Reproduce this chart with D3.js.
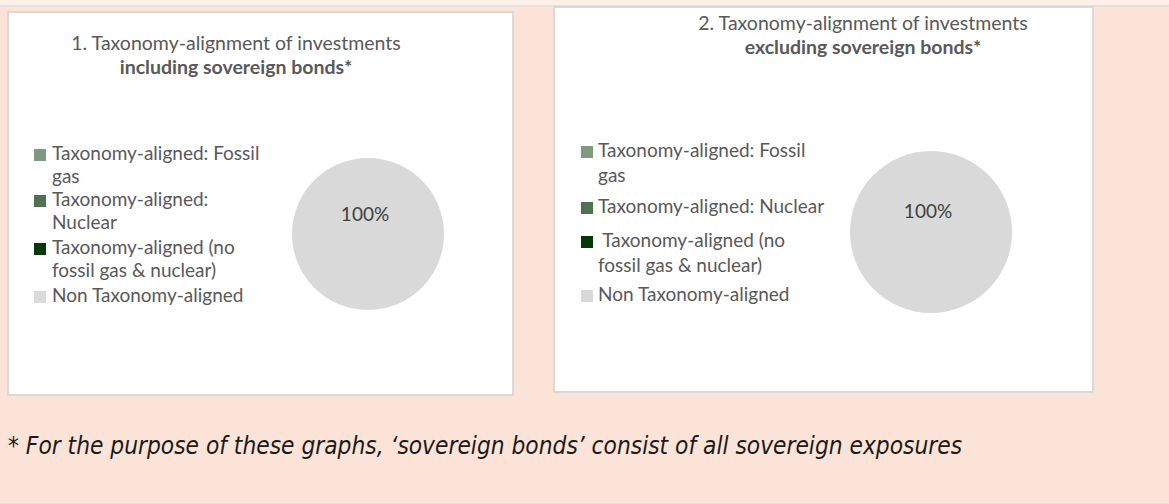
<!DOCTYPE html>
<html>
<head>
<meta charset="utf-8">
<script src="https://cdn.jsdelivr.net/npm/d3@7"></script>
<style>
  body { margin: 0; background: #fbe3d7; }
  svg { display: block; }
</style>
</head>
<body>
<svg id="chart" width="1169" height="504"></svg>
<script>
// legend categories and the pie values (percent) for both graphs
const categories = ["Taxonomy-aligned: Fossil gas", "Taxonomy-aligned: Nuclear",
  "Taxonomy-aligned (no fossil gas & nuclear)", "Non Taxonomy-aligned"];
const inclValues = [0, 0, 0, 100];
const exclValues = [0, 0, 0, 100];
const colors = ["#7f9a80", "#4f7352", "#063806", "#d9d9d9"];

// wrapped legend labels, as they break in each panel
const legendLines1 = [["Taxonomy-aligned: Fossil", "gas"], ["Taxonomy-aligned:", "Nuclear"],
  ["Taxonomy-aligned (no", "fossil gas & nuclear)"], ["Non Taxonomy-aligned"]];
const legendLines2 = [["Taxonomy-aligned: Fossil", "gas"], ["Taxonomy-aligned: Nuclear"],
  [" Taxonomy-aligned (no", "fossil gas & nuclear)"], ["Non Taxonomy-aligned"]];

const titles1 = ["1. Taxonomy-alignment of investments", "including sovereign bonds*"];
const titles2 = ["2. Taxonomy-alignment of investments", "excluding sovereign bonds*"];
const footnote = "* For the purpose of these graphs, \u2018sovereign bonds\u2019 consist of all sovereign exposures";

const svg = d3.select('#chart');
const font = "Lato, 'Open Sans', sans-serif";

// outer frame lines
svg.append('rect').attr('x', 0).attr('y', 0).attr('width', 1169).attr('height', 5).attr('fill', '#fdf0e9');
svg.append('line').attr('x1', 0).attr('x2', 1169).attr('y1', 6).attr('y2', 6)
  .attr('stroke', '#e3e0de').attr('stroke-width', 2);
svg.append('line').attr('x1', 0).attr('x2', 1169).attr('y1', 503.5).attr('y2', 503.5)
  .attr('stroke', '#e3e0de').attr('stroke-width', 1);

const panels = [
  { box: [8, 12, 505, 383], title: titles1, titleX: 236, titleY: [45, 69], values: inclValues,
    legend: legendLines1, legX: 34, textX: 52, legY: [155, 201, 249, 297], wrap: 23.5,
    cx: 368, cy: 234, r: 76 },
  { box: [554, 7, 539, 385], title: titles2, titleX: 863, titleY: [25, 49], values: exclValues,
    legend: legendLines2, legX: 581, textX: 598, legY: [152, 208, 242, 296], wrap: 25,
    cx: 931, cy: 232, r: 81 }
];

const pie = d3.pie().sort(null).value(d => d);

panels.forEach(p => {
  const g = svg.append('g');

  // panel card
  g.append('rect')
    .attr('x', p.box[0]).attr('y', p.box[1])
    .attr('width', p.box[2]).attr('height', p.box[3])
    .attr('fill', '#fff').attr('stroke', '#d9d9d9').attr('stroke-width', 2);

  // title, second line bold
  g.selectAll('text.title')
    .data(p.title)
    .join('text')
    .attr('class', 'title')
    .attr('x', p.titleX)
    .attr('y', (d, i) => p.titleY[i])
    .attr('text-anchor', 'middle')
    .attr('dominant-baseline', 'middle')
    .style('font-family', font)
    .style('font-size', '19.5px')
    .style('font-weight', (d, i) => i === 1 ? 'bold' : 'normal')
    .attr('fill', '#595959')
    .text(d => d);

  // legend
  const leg = g.selectAll('g.leg')
    .data(categories)
    .join('g')
    .attr('class', 'leg')
    .attr('transform', (d, i) => `translate(${p.legX},${p.legY[i]})`);

  leg.append('rect')
    .attr('x', 0).attr('y', -6)
    .attr('width', 12).attr('height', 12)
    .attr('fill', (d, i) => colors[i]);

  leg.each(function (d, i) {
    d3.select(this).selectAll('text')
      .data(p.legend[i])
      .join('text')
      .attr('x', p.textX - p.legX)
      .attr('y', (t, j) => j * p.wrap)
      .attr('dominant-baseline', 'middle')
      .attr('xml:space', 'preserve')
      .style('font-family', font)
      .style('font-size', '19px')
      .attr('fill', '#595959')
      .text(t => t);
  });

  // the pie itself
  const arc = d3.arc().innerRadius(0).outerRadius(p.r);
  const slices = pie(p.values);
  const pg = g.append('g').attr('transform', `translate(${p.cx},${p.cy})`);
  pg.selectAll('path')
    .data(slices)
    .join('path')
    .attr('d', arc)
    .attr('fill', (d, i) => colors[i]);

  // data label for the non-zero slice
  pg.selectAll('text')
    .data(slices.filter(d => d.data > 0))
    .join('text')
    .attr('x', -3)
    .attr('y', -p.r * 0.23)
    .attr('text-anchor', 'middle')
    .attr('dominant-baseline', 'middle')
    .style('font-family', font)
    .style('font-size', '19px')
    .attr('fill', '#404040')
    .text(d => d3.format('.0f')(d.data) + '%');
});

// footnote, sized so it runs to the same width as in the source
const fn = svg.append('text')
  .attr('x', 8)
  .attr('y', 447)
  .attr('dominant-baseline', 'middle')
  .style('font-family', "'Liberation Sans Narrow', 'DejaVu Sans Condensed', sans-serif")
  .style('font-style', 'italic')
  .style('font-size', '20px')
  .attr('fill', '#1a1a1a')
  .text(footnote);
const fnLen = fn.node().getComputedTextLength();
fn.style('font-size', (20 * 954 / fnLen).toFixed(2) + 'px');
</script>
</body>
</html>
